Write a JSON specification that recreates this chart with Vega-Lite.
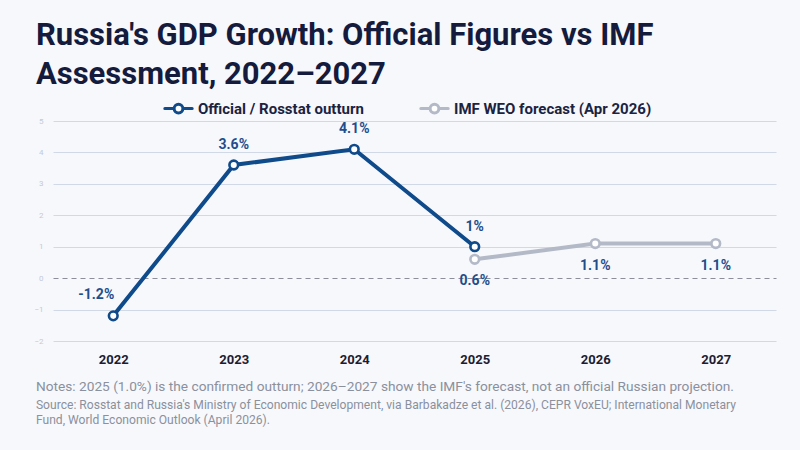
{
  "$schema": "https://vega.github.io/schema/vega-lite/v6.json",
  "background": "#f7f8fc",
  "padding": {"left": 33, "top": 20, "right": 27, "bottom": 33},
  "config": {"view": {"stroke": null}, "font": "Roboto"},
  "title": {
    "text": ["Russia's GDP Growth: Official Figures vs IMF", "Assessment, 2022–2027"],
    "anchor": "start",
    "frame": "bounds",
    "font": "Roboto",
    "fontSize": 31,
    "fontWeight": "bold",
    "color": "#151b3c",
    "lineHeight": 39,
    "offset": 2,
    "dx": 2
  },
  "vconcat": [
    {
      "width": 723,
      "height": 220,
      "title": {
        "text": "Notes: 2025 (1.0%) is the confirmed outturn; 2026–2027 show the IMF's forecast, not an official Russian projection.",
        "subtitle": [
          "Source: Rosstat and Russia's Ministry of Economic Development, via Barbakadze et al. (2026), CEPR VoxEU; International Monetary",
          "Fund, World Economic Outlook (April 2026)."
        ],
        "orient": "bottom",
        "anchor": "start",
        "frame": "bounds",
        "font": "Roboto",
        "fontSize": 13.7,
        "fontWeight": "normal",
        "color": "#8a909c",
        "subtitleFont": "Roboto",
        "subtitleFontSize": 12.1,
        "subtitleColor": "#8a909c",
        "subtitleLineHeight": 15,
        "subtitlePadding": 5,
        "offset": 14,
        "dx": 2
      },
      "data": {
        "values": [
          {"year": "2022", "series": "Official / Rosstat outturn", "value": -1.2, "label": "-1.2%"},
          {"year": "2023", "series": "Official / Rosstat outturn", "value": 3.6, "label": "3.6%"},
          {"year": "2024", "series": "Official / Rosstat outturn", "value": 4.1, "label": "4.1%"},
          {"year": "2025", "series": "Official / Rosstat outturn", "value": 1.0, "label": "1%"},
          {"year": "2025", "series": "IMF WEO forecast (Apr 2026)", "value": 0.6, "label": "0.6%"},
          {"year": "2026", "series": "IMF WEO forecast (Apr 2026)", "value": 1.1, "label": "1.1%"},
          {"year": "2027", "series": "IMF WEO forecast (Apr 2026)", "value": 1.1, "label": "1.1%"}
        ]
      },
      "encoding": {
        "x": {
          "field": "year",
          "type": "ordinal",
          "scale": {"type": "point", "padding": 0.5},
          "axis": {
            "title": null,
            "labelAngle": 0,
            "labelFontSize": 13,
            "labelFontWeight": "bold",
            "labelColor": "#1b2030",
            "ticks": false,
            "domain": false,
            "grid": false,
            "labelPadding": 12
          }
        },
        "y": {
          "field": "value",
          "type": "quantitative",
          "scale": {"domain": [-2, 5], "nice": false},
          "axis": {
            "title": null,
            "values": [-2, -1, 0, 1, 2, 3, 4, 5],
            "labelFontSize": 8,
            "labelColor": "#c3cad6",
            "ticks": false,
            "domain": false,
            "labelPadding": 10,
            "gridWidth": 1,
            "gridColor": {"condition": {"test": "datum.value === 0", "value": "#8c8f99"}, "value": "#d0d9e5"},
            "gridDash": {"condition": {"test": "datum.value === 0", "value": [5, 4]}, "value": []}
          }
        },
        "color": {
          "field": "series",
          "type": "nominal",
          "scale": {
            "domain": ["Official / Rosstat outturn", "IMF WEO forecast (Apr 2026)"],
            "range": ["#0f4a8a", "#b3b9c7"]
          },
          "legend": {
            "orient": "none",
            "legendX": 110,
            "legendY": -28,
            "direction": "horizontal",
            "title": null,
            "symbolType": "M-1,0L-0.32,0M0.32,0L1,0M0.32,0A0.32,0.32,0,1,1,-0.32,0A0.32,0.32,0,1,1,0.32,0Z",
            "symbolSize": 750,
            "symbolStrokeWidth": 3,
            "labelFont": "Roboto",
            "labelFontSize": 15,
            "labelFontWeight": "bold",
            "labelColor": "#1a2340",
            "labelLimit": 400,
            "columnPadding": 50,
            "labelOffset": 4,
            "encode": {
              "symbols": {"update": {"fill": {"value": "#ffffff"}, "strokeCap": {"value": "round"}, "opacity": {"value": 1}}}
            }
          }
        }
      },
      "layer": [
        {
          "transform": [{"filter": "datum.series === 'IMF WEO forecast (Apr 2026)'"}],
          "mark": {"type": "line", "strokeWidth": 4, "strokeCap": "round"}
        },
        {
          "transform": [{"filter": "datum.series === 'IMF WEO forecast (Apr 2026)'"}],
          "mark": {"type": "point", "shape": "circle", "filled": false, "fill": "#ffffff", "fillOpacity": 1, "opacity": 1, "size": 75, "strokeWidth": 2.6}
        },
        {
          "transform": [{"filter": "datum.series === 'Official / Rosstat outturn'"}],
          "mark": {"type": "line", "strokeWidth": 4, "strokeCap": "round"}
        },
        {
          "transform": [{"filter": "datum.series === 'Official / Rosstat outturn'"}],
          "mark": {"type": "point", "shape": "circle", "filled": false, "fill": "#ffffff", "fillOpacity": 1, "opacity": 1, "size": 75, "strokeWidth": 2.6}
        },
        {
          "transform": [{"filter": "datum.series === 'Official / Rosstat outturn' && datum.year !== '2022'"}],
          "mark": {"type": "text", "dy": -20, "fontSize": 14, "fontWeight": "bold"},
          "encoding": {"text": {"field": "label"}, "color": {"value": "#1f4e8c"}}
        },
        {
          "transform": [{"filter": "datum.series === 'Official / Rosstat outturn' && datum.year === '2022'"}],
          "mark": {"type": "text", "dx": -17, "dy": -21, "fontSize": 14, "fontWeight": "bold"},
          "encoding": {"text": {"field": "label"}, "color": {"value": "#1f4e8c"}}
        },
        {
          "transform": [{"filter": "datum.series === 'IMF WEO forecast (Apr 2026)'"}],
          "mark": {"type": "text", "dy": 22, "fontSize": 14, "fontWeight": "bold"},
          "encoding": {"text": {"field": "label"}, "color": {"value": "#1f4e8c"}}
        }
      ]
    }
  ]
}
